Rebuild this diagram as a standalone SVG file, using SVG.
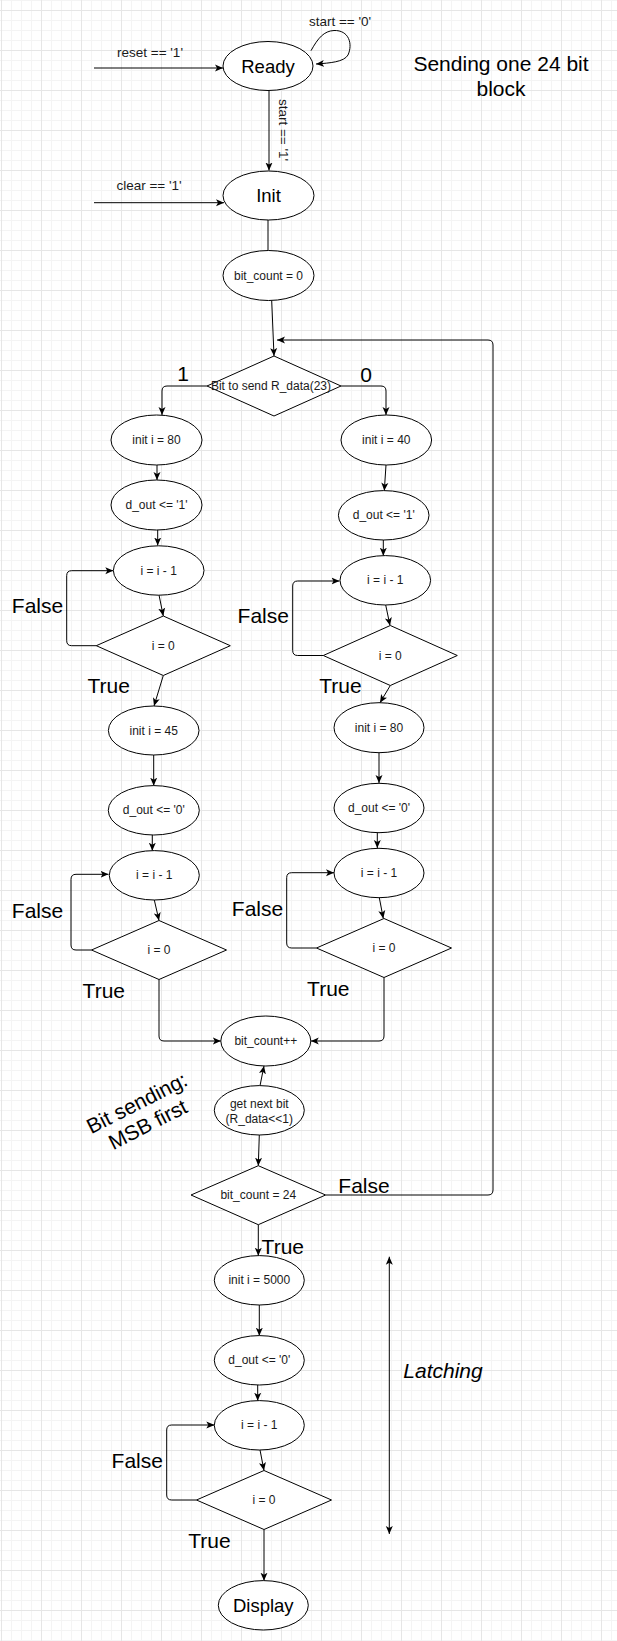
<svg xmlns="http://www.w3.org/2000/svg" width="617" height="1641" viewBox="0 0 617 1641">
<style>
.n{fill:#fff;stroke:#000;stroke-width:1}
.t{font-family:"Liberation Sans",Arial,sans-serif;fill:#1a1a1a;text-anchor:middle;dominant-baseline:central;font-size:12px}
.big{font-size:18.5px;fill:#000}
.lbl{font-family:"Liberation Sans",Arial,sans-serif;fill:#000;text-anchor:middle;dominant-baseline:central;font-size:21px}
.el{font-family:"Liberation Sans",Arial,sans-serif;fill:#1a1a1a;text-anchor:middle;dominant-baseline:central;font-size:13.5px}
.c{fill:none;stroke:#000;stroke-width:1}
.a{marker-end:url(#ar)}
</style>
<defs>
<pattern id="grid" x="1" y="10" width="40" height="40" patternUnits="userSpaceOnUse">
<rect x="0" y="0" width="40" height="40" fill="#fff"/>
<rect x="10" y="0" width="1" height="40" fill="#f4f4f4"/>
<rect x="20" y="0" width="1" height="40" fill="#f4f4f4"/>
<rect x="30" y="0" width="1" height="40" fill="#f4f4f4"/>
<rect x="0" y="10" width="40" height="1" fill="#f4f4f4"/>
<rect x="0" y="20" width="40" height="1" fill="#f4f4f4"/>
<rect x="0" y="30" width="40" height="1" fill="#f4f4f4"/>
<rect x="0" y="0" width="1" height="40" fill="#e6e6e6"/>
<rect x="0" y="0" width="40" height="1" fill="#e6e6e6"/>
</pattern>
<marker id="ar" viewBox="0 0 8 8" markerWidth="8" markerHeight="8" refX="8" refY="4" orient="auto-start-reverse" markerUnits="userSpaceOnUse">
<path d="M0,0.5 L8,4 L0,7.5 L2,4 Z" fill="#000"/>
</marker>
</defs>
<rect x="0" y="0" width="617" height="1641" fill="url(#grid)"/>

<g id="connectors">
<path class="c a" d="M94,68 H223"/>
<path class="c a" d="M94,202.7 H224"/>
<path class="c a" d="M311,50.7 C318,38 324,31 334,30.5 C349,30 353,44 348,55 C344,62 330,63 316,64"/>
<path class="c a" d="M269,90.5 V170.5" stroke="#444" stroke-width="1.5"/>
<path class="c" d="M268,220 V250.5" stroke="#444"/>
<path class="c a" d="M271.7,300.5 L274,356"/>
<path class="c a" d="M325.7,1195 H488 Q493,1195 493,1190 V345 Q493,340 488,340 H277"/>
<path class="c a" d="M341,386 H381 Q386,386 386,391 V415"/>
<path class="c a" d="M207,386 H167 Q162,386 162,391 V415"/>

<path class="c a" d="M157,465 V480"/>
<path class="c a" d="M157.7,530 V545.5"/>
<path class="c a" d="M159,595 L163.3,616"/>
<path class="c a" d="M96.5,645.7 H71.7 Q66.7,645.7 66.7,640.7 V575.7 Q66.7,570.7 71.7,570.7 H113.3"/>
<path class="c a" d="M163.3,675.5 L154,706"/>
<path class="c a" d="M153.7,755 V785.7"/>
<path class="c a" d="M152.3,835 V850.7"/>
<path class="c a" d="M154.3,900 L159,920.5"/>
<path class="c a" d="M91.5,950 H76 Q71,950 71,945 V879.3 Q71,874.3 76,874.3 H108.5"/>
<path class="c a" d="M159,979.5 V1036 Q159,1041 164,1041 H220.8"/>

<path class="c a" d="M386,465 L384.3,490.7"/>
<path class="c a" d="M383.3,540 V555.7"/>
<path class="c a" d="M385.7,605 L390,625.5"/>
<path class="c a" d="M323.3,655.5 H297.7 Q292.7,655.5 292.7,650.5 V586 Q292.7,581 297.7,581 H339.5"/>
<path class="c a" d="M390.3,685.5 L380,702.7"/>
<path class="c a" d="M379,752.7 V783"/>
<path class="c a" d="M377.3,832.7 V848"/>
<path class="c a" d="M379.3,897.7 L383.3,918.5"/>
<path class="c a" d="M316.5,948 H291.7 Q286.7,948 286.7,943 V877.7 Q286.7,872.7 291.7,872.7 H334"/>
<path class="c a" d="M384,977.5 V1036 Q384,1041 379,1041 H310.8"/>

<path class="c a" d="M260,1085.7 L264,1065.9"/>
<path class="c a" d="M259.3,1135 L258.3,1165.7"/>
<path class="c a" d="M258.3,1224.7 V1255.7"/>
<path class="c a" d="M259.3,1305 V1335.7"/>
<path class="c a" d="M257.7,1385 V1400.7"/>
<path class="c a" d="M260,1450 L264,1470.5"/>
<path class="c a" d="M196.5,1500 H171.7 Q166.7,1500 166.7,1495 V1430 Q166.7,1425 171.7,1425 H214.3"/>
<path class="c a" d="M264,1529.5 V1580.7"/>
<path class="c a" d="M389.3,1256.7 V1534" marker-start="url(#ar)"/>
</g>

<g id="edge-labels">
<text class="el" x="150" y="52">reset == '1'</text>
<text class="el" x="149" y="185">clear == '1'</text>
<text class="el" x="340" y="21.7">start == '0'</text>
<text class="el" transform="translate(283.5,130) rotate(90)">start == '1'</text>
<text class="lbl" x="183" y="373" font-size="18">1</text>
<text class="lbl" x="366" y="374" font-size="18">0</text>
<text class="lbl" x="37.5" y="605.7">False</text>
<text class="lbl" x="108.7" y="685.7">True</text>
<text class="lbl" x="37.5" y="910">False</text>
<text class="lbl" x="103.8" y="990">True</text>
<text class="lbl" x="263.3" y="615">False</text>
<text class="lbl" x="340.5" y="685">True</text>
<text class="lbl" x="257.5" y="908.3">False</text>
<text class="lbl" x="328.3" y="988.3">True</text>
<text class="lbl" x="364" y="1185.7" font-size="20">False</text>
<text class="lbl" x="282.8" y="1246" font-size="20">True</text>
<text class="lbl" x="137.3" y="1460">False</text>
<text class="lbl" x="209.5" y="1540">True</text>
</g>

<g id="notes">
<text class="lbl" x="501" y="63" font-size="21.5">Sending one 24 bit</text>
<text class="lbl" x="501" y="88" font-size="21.5">block</text>
<text class="lbl" x="443" y="1370.7" font-size="20" font-style="italic">Latching</text>
<text class="lbl" font-size="21" transform="translate(142,1113) rotate(-27)"><tspan x="0" y="-12">Bit sending:</tspan><tspan x="0" y="12">MSB first</tspan></text>
</g>

<g id="ready"><ellipse class="n" cx="268" cy="66" rx="45" ry="24.5"/><text class="t big" x="268" y="66">Ready</text></g>
<g id="init"><ellipse class="n" cx="268.5" cy="195.5" rx="45.5" ry="24.5"/><text class="t big" x="268.5" y="195.5">Init</text></g>
<g id="bitcount0"><ellipse class="n" cx="268.5" cy="275.5" rx="45.5" ry="25"/><text class="t" x="268.5" y="275.5">bit_count = 0</text></g>
<g id="bit-to-send"><polygon class="n" points="274,356 341,386 274,416 207,386"/><text class="t" x="271" y="386" font-size="12.5">Bit to send R_data(23)</text></g>

<g id="l-init80"><ellipse class="n" cx="156.5" cy="440" rx="45.5" ry="25"/><text class="t" x="156.5" y="440">init i = 80</text></g>
<g id="l-dout1"><ellipse class="n" cx="156.5" cy="505" rx="45.5" ry="25"/><text class="t" x="156.5" y="505">d_out &lt;= '1'</text></g>
<g id="l-dec1"><ellipse class="n" cx="158.7" cy="570.5" rx="45.3" ry="24.7"/><text class="t" x="158.7" y="570.5">i = i - 1</text></g>
<g id="l-cmp1"><polygon class="n" points="163.3,616 230.3,645.7 163.3,675.5 96.3,645.7"/><text class="t" x="163.3" y="645.7">i = 0</text></g>
<g id="l-init45"><ellipse class="n" cx="153.7" cy="730.5" rx="45.3" ry="24.5"/><text class="t" x="153.7" y="730.5">init i = 45</text></g>
<g id="l-dout0"><ellipse class="n" cx="153.8" cy="810.3" rx="45.5" ry="24.7"/><text class="t" x="153.8" y="810.3">d_out &lt;= '0'</text></g>
<g id="l-dec2"><ellipse class="n" cx="154.3" cy="875.3" rx="45" ry="24.7"/><text class="t" x="154.3" y="875.3">i = i - 1</text></g>
<g id="l-cmp2"><polygon class="n" points="159,920.5 226.5,950 159,979.5 91.5,950"/><text class="t" x="159" y="950">i = 0</text></g>

<g id="r-init40"><ellipse class="n" cx="386.3" cy="440" rx="45.3" ry="25"/><text class="t" x="386.3" y="440">init i = 40</text></g>
<g id="r-dout1"><ellipse class="n" cx="383.7" cy="515.3" rx="45.3" ry="24.7"/><text class="t" x="383.7" y="515.3">d_out &lt;= '1'</text></g>
<g id="r-dec1"><ellipse class="n" cx="385.3" cy="580.3" rx="45.3" ry="24.7"/><text class="t" x="385.3" y="580.3">i = i - 1</text></g>
<g id="r-cmp1"><polygon class="n" points="390.3,625.5 457.3,655.5 390.3,685.5 323.3,655.5"/><text class="t" x="390.3" y="655.5">i = 0</text></g>
<g id="r-init80"><ellipse class="n" cx="379" cy="727.7" rx="45" ry="25"/><text class="t" x="379" y="727.7">init i = 80</text></g>
<g id="r-dout0"><ellipse class="n" cx="379" cy="808" rx="45" ry="24.7"/><text class="t" x="379" y="808">d_out &lt;= '0'</text></g>
<g id="r-dec2"><ellipse class="n" cx="379" cy="873" rx="45" ry="24.7"/><text class="t" x="379" y="873">i = i - 1</text></g>
<g id="r-cmp2"><polygon class="n" points="384,918.5 451.5,948 384,977.5 316.5,948"/><text class="t" x="384" y="948">i = 0</text></g>

<g id="bitcount-inc"><ellipse class="n" cx="265.8" cy="1041" rx="45" ry="25"/><text class="t" x="265.8" y="1041">bit_count++</text></g>
<g id="next-bit"><ellipse class="n" cx="259.3" cy="1110.3" rx="45" ry="24.7"/><text class="t" x="259.3" y="1103.7">get next bit</text><text class="t" x="259.3" y="1118.5">(R_data&lt;&lt;1)</text></g>
<g id="bitcount24"><polygon class="n" points="258.3,1165.7 325.6,1195 258.3,1224.7 191,1195"/><text class="t" x="258.3" y="1195">bit_count = 24</text></g>

<g id="init5000"><ellipse class="n" cx="259.3" cy="1280.3" rx="45" ry="24.7"/><text class="t" x="259.3" y="1280.3">init i = 5000</text></g>
<g id="latch-dout0"><ellipse class="n" cx="259.3" cy="1360.3" rx="45" ry="24.7"/><text class="t" x="259.3" y="1360.3">d_out &lt;= '0'</text></g>
<g id="latch-dec"><ellipse class="n" cx="259.3" cy="1425.3" rx="45" ry="24.7"/><text class="t" x="259.3" y="1425.3">i = i - 1</text></g>
<g id="latch-cmp"><polygon class="n" points="264,1470.5 331.5,1500 264,1529.5 196.5,1500"/><text class="t" x="264" y="1500">i = 0</text></g>
<g id="display"><ellipse class="n" cx="263.3" cy="1605.3" rx="45" ry="24.7"/><text class="t big" x="263.3" y="1605.3">Display</text></g>
</svg>
